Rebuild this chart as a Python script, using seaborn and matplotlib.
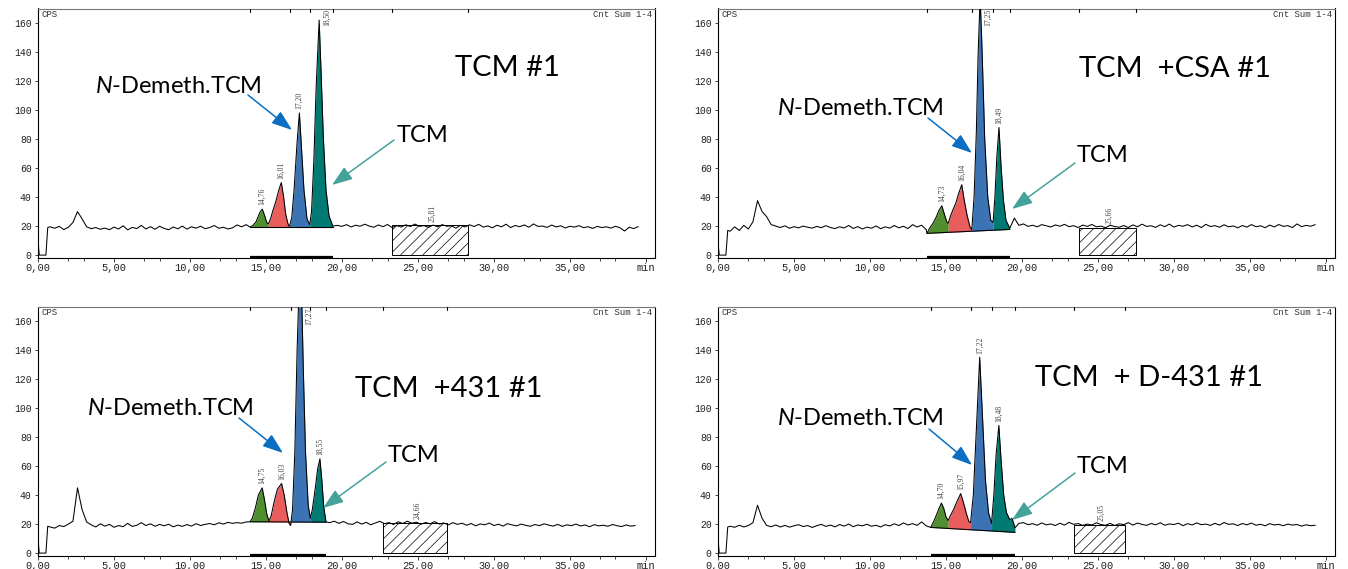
import numpy as np
import pandas as pd
import matplotlib
matplotlib.use("Agg")
import matplotlib.pyplot as plt
from matplotlib.patches import Rectangle, FancyArrowPatch
from matplotlib.transforms import blended_transform_factory
import seaborn as sns

# ---------------------------------------------------------------------------
# Chromatogram data: time in min, signal in CPS
# ---------------------------------------------------------------------------
NOISE_STEP = 0.3          # sampling step of the baseline readings (min)
PRE_START = 0.8           # first baseline reading after the injection dip

lead_t = [0.0, 0.08, 0.52, 0.64]

# --- TCM #1 ---
p1_lead = [10.5, 0.0, 0.0, 19.0]
p1_pre = [19.5, 18.5, 19.8, 17.6, 19.2, 22.5, 30.0, 25.0, 19.5, 18.2,
          19.0, 17.8, 18.6, 17.5, 19.3, 18.0, 20.2, 17.4, 19.1, 18.3,
          20.5, 18.0, 19.6, 17.8, 19.9, 18.4, 17.5, 19.4, 18.1, 20.0,
          17.9, 19.5, 18.6, 19.9, 18.2, 19.0, 20.4, 18.5, 19.2, 18.0,
          18.8, 20.8, 19.5, 21.0]
p1_peak_t = [13.95, 14.15, 14.35, 14.50, 14.63, 14.76, 14.92, 15.05, 15.15,
             15.30, 15.45, 15.65, 15.85, 16.01, 16.15, 16.30, 16.45, 16.55,
             16.70, 16.85, 17.05, 17.20, 17.35, 17.50, 17.70, 17.88,
             18.00, 18.15, 18.30, 18.50, 18.62, 18.78, 18.95, 19.15, 19.40]
p1_peak_y = [19.3, 20.5, 23.0, 27.0, 30.0, 31.7, 27.0, 22.5, 21.5,
             25.0, 30.5, 37.0, 45.0, 50.0, 41.0, 28.0, 21.5, 19.8,
             26.0, 45.0, 78.0, 98.0, 72.0, 45.0, 25.0, 21.0,
             30.0, 65.0, 115.0, 162.0, 128.0, 80.0, 45.0, 27.0, 20.0]
p1_post_start = 19.7
p1_post = [20.5, 19.8, 21.0, 19.4, 20.6, 19.9, 21.3, 20.0, 19.2, 20.8,
           19.6, 21.1, 19.0, 20.4, 19.3, 20.9, 19.7, 21.4, 19.8, 20.3,
           19.1, 20.7, 19.5, 21.0, 19.9, 20.2, 18.6, 20.5, 19.4, 20.9,
           19.7, 21.2, 19.3, 20.1, 18.8, 20.6, 19.5, 21.3, 19.0, 20.4,
           19.6, 20.8, 19.2, 21.5, 19.8, 20.0, 19.1, 20.7, 19.4, 20.2,
           18.7, 19.9, 19.3, 20.3, 18.9, 19.6, 18.4, 19.8, 19.0, 19.5,
           18.6, 19.9, 18.8, 16.6, 19.2, 18.3, 19.6]
p1_cuts = [13.95, 15.15, 16.55, 17.88, 19.40]
p1_floor = [19.3, 19.3]
p1_rt = ["14,76", "16,01", "17,20", "18,50"]
p1_window = [23.3, 28.3, 20.5]
p1_window_rt = "25,81"

# --- TCM +CSA #1 ---
p2_lead = [9.0, 0.0, 0.0, 17.0]
p2_pre = [16.5, 19.5, 17.0, 20.5, 18.0, 23.0, 37.5, 30.0, 26.5, 21.0,
          20.0, 19.0, 20.2, 18.5, 19.6, 18.8, 20.0, 19.2, 18.6, 19.8,
          18.9, 20.3, 19.0, 18.3, 19.5, 18.7, 20.4, 18.4, 19.6, 18.0,
          19.3, 18.5, 20.1, 18.2, 19.5, 18.6, 20.4, 18.8, 19.9, 18.3,
          21.0, 19.4, 20.6, 17.5]
p2_peak_t = [13.75, 13.95, 14.15, 14.35, 14.55, 14.73, 14.90, 15.05, 15.15,
             15.30, 15.45, 15.65, 15.85, 16.04, 16.20, 16.40, 16.58, 16.70,
             16.85, 17.00, 17.12, 17.25, 17.38, 17.55, 17.75, 17.95,
             18.10, 18.22, 18.35, 18.49, 18.62, 18.78, 18.95, 19.20]
p2_peak_y = [15.0, 19.0, 22.0, 26.0, 31.0, 34.0, 28.0, 23.0, 22.0,
             27.0, 31.0, 36.0, 43.0, 48.5, 38.0, 27.0, 19.5, 17.5,
             40.0, 85.0, 140.0, 178.0, 140.0, 80.0, 40.0, 24.0,
             22.5, 40.0, 68.0, 88.0, 62.0, 38.0, 24.0, 18.5]
p2_post_start = 19.5
p2_post = [25.5, 20.5, 21.5, 19.8, 20.6, 19.5, 21.0, 20.2, 19.4, 20.8,
           19.9, 21.2, 19.6, 20.3, 19.0, 20.7, 19.8, 21.1, 19.5, 20.0,
           18.9, 20.6, 19.7, 19.2, 20.4, 19.0, 20.8, 19.5, 21.3, 19.8,
           20.2, 19.1, 20.9, 19.6, 21.4, 19.3, 20.5, 19.9, 21.0, 19.4,
           20.6, 19.0, 21.2, 19.7, 20.3, 19.2, 20.9, 19.5, 20.1, 18.8,
           20.4, 19.3, 21.0, 19.6, 20.2, 18.9, 20.7, 19.4, 21.1, 19.8,
           20.3, 19.0, 21.5, 19.6, 20.5, 19.9, 21.0]
p2_cuts = [13.75, 15.15, 16.70, 18.10, 19.20]
p2_floor = [15.0, 17.7]
p2_rt = ["14,73", "16,04", "17,25", "18,49"]
p2_window = [23.75, 27.5, 19.0]
p2_window_rt = "25,66"

# --- TCM +431 #1 ---
p3_lead = [10.0, 0.0, 0.0, 18.5]
p3_pre = [18.0, 17.2, 19.0, 18.3, 20.0, 22.0, 45.0, 30.0, 21.5, 19.5,
          18.0, 20.2, 18.6, 19.8, 17.8, 19.0, 18.2, 20.5, 18.4, 19.2,
          21.0, 19.0, 20.2, 18.5, 19.8, 18.8, 19.9, 18.1, 19.3, 18.4,
          19.7, 18.6, 20.3, 19.0, 19.8, 20.4, 19.5, 20.9, 20.0, 21.2,
          20.5, 21.0, 20.6, 21.5]
p3_peak_t = [13.95, 14.10, 14.30, 14.50, 14.75, 14.90, 15.05, 15.20,
             15.35, 15.55, 15.75, 16.03, 16.20, 16.38, 16.52, 16.62,
             16.75, 16.90, 17.05, 17.27, 17.45, 17.60, 17.78, 17.92,
             18.05, 18.25, 18.40, 18.55, 18.68, 18.80, 18.95]
p3_peak_y = [21.6, 24.0, 31.0, 40.0, 45.0, 37.0, 27.0, 22.0,
             26.0, 36.0, 44.0, 48.0, 40.0, 28.0, 20.5, 19.0,
             30.0, 70.0, 140.0, 215.0, 130.0, 70.0, 33.0, 24.0,
             30.0, 45.0, 58.0, 65.0, 50.0, 32.0, 21.5]
p3_post_start = 19.2
p3_post = [21.0, 22.0, 20.5, 21.8, 20.2, 19.8, 21.5, 20.0, 21.2, 19.5,
           20.8, 21.9, 20.3, 21.0, 19.7, 21.6, 20.4, 22.0, 20.6, 21.3,
           19.9, 21.1, 20.2, 21.7, 20.0, 20.8, 19.4, 21.0, 19.8, 20.6,
           19.2, 20.4, 18.8, 20.1, 19.5, 20.7, 19.0, 19.9, 18.6, 20.3,
           19.4, 18.8, 20.0, 19.1, 18.5, 19.7, 18.9, 20.2, 19.3, 18.6,
           19.8, 18.4, 19.5, 18.9, 20.0, 18.7, 19.4, 18.2, 19.6, 18.8,
           19.2, 18.5, 19.7, 18.9, 18.3, 19.4, 18.6, 19.0]
p3_cuts = [13.95, 15.20, 16.62, 17.92, 18.95]
p3_floor = [21.6, 21.3]
p3_rt = ["14,75", "16,03", "17,27", "18,55"]
p3_window = [22.7, 26.9, 21.0]
p3_window_rt = "24,66"

# --- TCM + D-431 #1 ---
p4_lead = [10.0, 0.0, 0.0, 18.0]
p4_pre = [18.5, 17.8, 19.2, 18.0, 19.0, 21.0, 33.0, 24.0, 19.0, 18.2,
          19.4, 18.0, 19.1, 17.9, 18.8, 19.6, 18.3, 19.0, 17.7, 18.9,
          19.8, 18.4, 19.3, 18.1, 19.7, 18.6, 20.0, 18.2, 19.4, 18.8,
          19.9, 18.5, 19.2, 18.0, 19.6, 18.7, 20.2, 19.0, 20.8, 19.4,
          20.3, 19.1, 21.5, 18.8]
p4_peak_t = [14.00, 14.20, 14.40, 14.55, 14.70, 14.85, 15.00, 15.15,
             15.30, 15.50, 15.70, 15.97, 16.15, 16.35, 16.50, 16.62,
             16.80, 17.00, 17.22, 17.40, 17.60, 17.80, 18.00,
             18.15, 18.30, 18.48, 18.62, 18.80, 18.98, 19.20, 19.35, 19.54]
p4_peak_y = [17.7, 22.0, 27.0, 31.0, 34.5, 31.0, 25.0, 22.5,
             26.0, 30.0, 35.0, 41.0, 35.0, 27.0, 22.0, 21.0,
             40.0, 85.0, 135.0, 95.0, 50.0, 28.0, 20.5,
             40.0, 68.0, 88.0, 65.0, 40.0, 28.0, 23.0, 24.0, 17.5]
p4_post_start = 19.8
p4_post = [20.5, 21.0, 19.6, 20.3, 19.2, 20.8, 19.5, 20.1, 19.0, 20.6,
           19.3, 21.2, 19.8, 20.4, 19.1, 20.0, 19.4, 20.9, 19.7, 19.2,
           20.5, 19.0, 20.2, 19.6, 21.0, 19.3, 20.7, 19.8, 19.1, 20.4,
           19.5, 20.9, 19.2, 20.1, 19.7, 20.6, 18.9, 20.3, 19.4, 20.8,
           19.6, 20.0, 19.1, 20.5, 19.3, 21.1, 19.8, 20.2, 19.0, 20.4,
           19.5, 20.7, 19.2, 19.9, 18.8, 20.3, 19.4, 19.8, 18.9, 20.0,
           19.3, 19.7, 18.6, 19.5, 18.9, 19.2]
p4_cuts = [14.00, 15.15, 16.62, 18.00, 19.54]
p4_floor = [17.7, 14.3]
p4_rt = ["14,70", "15,97", "17,22", "18,48"]
p4_window = [23.4, 26.8, 19.3]
p4_window_rt = "25,05"

panel_titles = ["TCM #1", "TCM  +CSA #1", "TCM  +431 #1", "TCM  + D-431 #1"]
x_tick_values = [0, 5, 10, 15, 20, 25, 30, 35, 40]
x_tick_labels = ["0,00", "5,00", "10,00", "15,00", "20,00", "25,00",
                 "30,00", "35,00", "min"]
y_tick_values = [0, 20, 40, 60, 80, 100, 120, 140, 160]

# ---------------------------------------------------------------------------
# Styling
# ---------------------------------------------------------------------------
sns.set_style("white")
plt.rcParams["font.family"] = ["Lato", "DejaVu Sans"]
plt.rcParams["mathtext.fontset"] = "custom"
plt.rcParams["mathtext.it"] = "Lato:italic"
plt.rcParams["mathtext.rm"] = "Lato"
plt.rcParams["hatch.linewidth"] = 0.5

PEAK_COLORS = ["#4f8f2f", "#e95d5d", "#3b73b5", "#007a72"]
BLUE_ARROW = "#0a6fc2"
TEAL_ARROW = "#45a29b"
MONO = "Liberation Mono"
SERIF = "Liberation Serif"

W, H = 1348, 569
XMAX, YMIN, YMAX = 40.6, -2, 170


def fx(x):
    return x / W


def fy(y):
    return 1 - y / H


def build_trace(lead, pre, peak_t, peak_y, post_start, post):
    t = np.concatenate([lead_t,
                        PRE_START + NOISE_STEP * np.arange(len(pre)),
                        peak_t,
                        post_start + NOISE_STEP * np.arange(len(post))])
    y = np.concatenate([lead, pre, peak_y, post])
    return pd.DataFrame({"time": t, "cps": y})


panels = [
    dict(lead=p1_lead, pre=p1_pre, pt=p1_peak_t, py=p1_peak_y,
         ps=p1_post_start, post=p1_post, cuts=p1_cuts, floor=p1_floor,
         rt=p1_rt, win=p1_window, win_rt=p1_window_rt),
    dict(lead=p2_lead, pre=p2_pre, pt=p2_peak_t, py=p2_peak_y,
         ps=p2_post_start, post=p2_post, cuts=p2_cuts, floor=p2_floor,
         rt=p2_rt, win=p2_window, win_rt=p2_window_rt),
    dict(lead=p3_lead, pre=p3_pre, pt=p3_peak_t, py=p3_peak_y,
         ps=p3_post_start, post=p3_post, cuts=p3_cuts, floor=p3_floor,
         rt=p3_rt, win=p3_window, win_rt=p3_window_rt),
    dict(lead=p4_lead, pre=p4_pre, pt=p4_peak_t, py=p4_peak_y,
         ps=p4_post_start, post=p4_post, cuts=p4_cuts, floor=p4_floor,
         rt=p4_rt, win=p4_window, win_rt=p4_window_rt),
]

# axes boxes in pixels: left, top, right, bottom
boxes = [(38, 8.5, 655, 258), (718, 8.5, 1335, 258),
         (38, 306.5, 655, 556), (718, 306.5, 1335, 556)]

fig = plt.figure(figsize=(W / 100, H / 100), dpi=100)


def draw_panel(ax, p):
    df = build_trace(p["lead"], p["pre"], p["pt"], p["py"], p["ps"], p["post"])

    # hatched integration window
    w0, w1, wtop = p["win"]
    ax.add_patch(Rectangle((w0, 0), w1 - w0, wtop, facecolor="white",
                           edgecolor="black", hatch="///", lw=0.7, zorder=1))
    ax.text((w0 + w1) / 2 + 0.15, wtop + 2.5, p["win_rt"], rotation=90,
            ha="center", va="bottom", fontsize=5.5, family=SERIF,
            color="#444444", zorder=6)

    # filled peak areas above the drop baseline
    pt = np.asarray(p["pt"])
    py = np.asarray(p["py"])
    cuts = p["cuts"]
    base = np.interp(pt, [cuts[0], cuts[-1]], p["floor"])
    for i, col in enumerate(PEAK_COLORS):
        m = (pt >= cuts[i]) & (pt <= cuts[i + 1])
        ax.fill_between(pt[m], base[m], py[m], color=col, lw=0, zorder=2)
    ax.plot([cuts[0], cuts[-1]], p["floor"], color="black", lw=0.8, zorder=3)

    # signal trace
    sns.lineplot(data=df, x="time", y="cps", ax=ax, color="black", lw=0.75,
                 sort=False, estimator=None, zorder=4)

    # retention time labels
    for s in p["rt"]:
        rt = float(s.replace(",", "."))
        apex = float(np.interp(rt, pt, py))
        if apex + 20 > YMAX:
            ax.text(rt + 0.55, YMAX - 0.5, s, rotation=90, ha="center",
                    va="top", fontsize=5.5, family=SERIF, color="#444444",
                    zorder=6)
        else:
            ax.text(rt, apex + 2.5, s, rotation=90, ha="center", va="bottom",
                    fontsize=5.5, family=SERIF, color="#444444", zorder=6)

    # integration markers on the frame
    tr = blended_transform_factory(ax.transData, ax.transAxes)
    for m in [cuts[0], cuts[2], cuts[3], cuts[4], w0, w1]:
        ax.plot([m, m], [1.0, 0.985], transform=tr, color="black", lw=0.8,
                clip_on=False, zorder=5)
    ax.plot([cuts[0], cuts[-1]], [0.003, 0.003], transform=tr, color="black",
            lw=1.6, solid_capstyle="butt", clip_on=False, zorder=5)

    # axes
    ax.set_xlim(0, XMAX)
    ax.set_ylim(YMIN, YMAX)
    ax.set_xlabel("")
    ax.set_ylabel("")
    ax.set_xticks(x_tick_values)
    ax.set_xticklabels(x_tick_labels)
    ax.set_xticks([k for k in range(41) if k % 5 in (2, 3)], minor=True)
    ax.set_yticks(y_tick_values)
    ax.set_yticklabels([str(v) for v in y_tick_values])
    ax.tick_params(axis="x", which="major", direction="out", length=3,
                   width=0.6, pad=0.5, labelsize=7.5, labelcolor="#222222",
                   bottom=True)
    ax.tick_params(axis="x", which="minor", direction="out", length=2.5,
                   width=0.6, bottom=True)
    ax.tick_params(axis="y", direction="out", length=2.5, width=0.6, pad=2,
                   labelsize=7, labelcolor="#222222", left=True)
    for lbl in ax.get_xticklabels() + ax.get_yticklabels():
        lbl.set_fontfamily(MONO)
    for side, sp in ax.spines.items():
        sp.set_visible(True)
        sp.set_linewidth(0.8)
        sp.set_color("#777777" if side == "top" else "black")
    ax.text(0.006, 0.992, "CPS", transform=ax.transAxes, ha="left", va="top",
            fontsize=6.5, family=MONO, color="#333333")
    ax.text(0.995, 0.992, "Cnt Sum 1-4", transform=ax.transAxes, ha="right",
            va="top", fontsize=6.5, family=MONO, color="#333333")


for box, p in zip(boxes, panels):
    l, t, r, b = box
    ax = fig.add_axes([fx(l), fy(b), (r - l) / W, (b - t) / H])
    draw_panel(ax, p)

# panel captions and compound annotations (pixel layout)
titles_px = [(455, 76), (1079, 77), (355, 397), (1035, 386)]
demeth_px = [(95, 93), (777, 115), (87, 415), (777, 425)]
tcm_px = [(397, 142), (1077, 162), (388, 462), (1077, 473)]
blue_arrows = [((248, 95), (292, 130)), ((928, 118), (972, 153)),
               ((239, 418), (283, 453)), ((929, 429), (972, 465))]
teal_arrows = [((394, 140), (332, 185)), ((1075, 163), (1012, 209)),
               ((386, 462), (323, 508)), ((1075, 473), (1012, 520))]

for i in range(4):
    fig.text(fx(titles_px[i][0]), fy(titles_px[i][1]), panel_titles[i],
             ha="left", va="baseline", fontsize=21, color="black")
    fig.text(fx(demeth_px[i][0]), fy(demeth_px[i][1]), r"$N$-Demeth.TCM",
             ha="left", va="baseline", fontsize=17, color="black")
    fig.text(fx(tcm_px[i][0]), fy(tcm_px[i][1]), "TCM",
             ha="left", va="baseline", fontsize=17, color="black")
    for (a, bpt), col in [(blue_arrows[i], BLUE_ARROW), (teal_arrows[i], TEAL_ARROW)]:
        arr = FancyArrowPatch((fx(a[0]), fy(a[1])), (fx(bpt[0]), fy(bpt[1])),
                              transform=fig.transFigure,
                              arrowstyle="-|>,head_length=1.25,head_width=0.45",
                              mutation_scale=10, color=col, lw=1.1,
                              shrinkA=0, shrinkB=0, zorder=10)
        fig.add_artist(arr)

fig.savefig("out.png", dpi=100)
